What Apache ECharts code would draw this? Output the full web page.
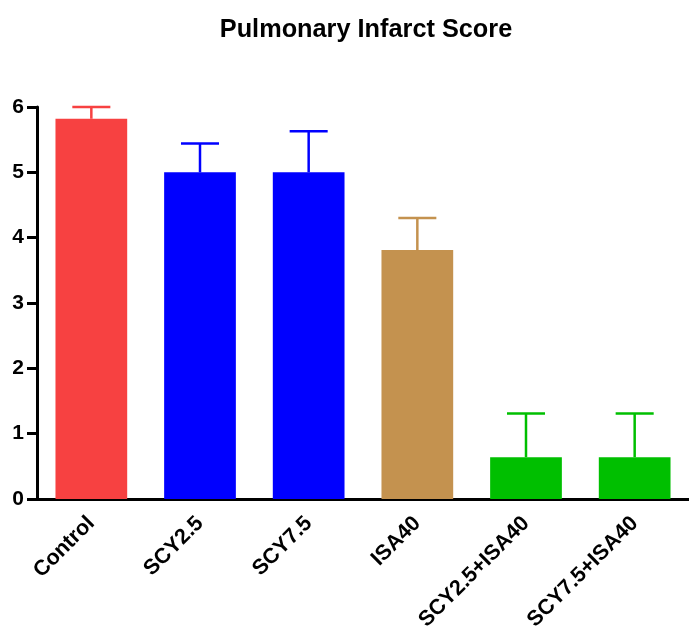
<!DOCTYPE html>
<html>
<head>
<meta charset="utf-8">
<script src="https://cdn.jsdelivr.net/npm/echarts@6/dist/echarts.min.js"></script>
<style>
  html, body { margin: 0; padding: 0; background: #fff; }
  #chart { width: 689px; height: 636px; }
</style>
</head>
<body>
<div id="chart"></div>
<script>
// Group names, mean scores and upper error-bar ends
const categories = ['Control', 'SCY2.5', 'SCY7.5', 'ISA40', 'SCY2.5+ISA40', 'SCY7.5+ISA40'];
const means = [5.82, 5.0, 5.0, 3.81, 0.64, 0.64];
const upperErr = [6.0, 5.44, 5.63, 4.30, 1.31, 1.31];
const barColors = ['#F74141', '#0000FF', '#0000FF', '#C4924F', '#00BF00', '#00BF00'];
const yTicks = [0, 1, 2, 3, 4, 5, 6];

const chart = echarts.init(document.getElementById('chart'), null, { renderer: 'canvas' });

const fontFam = '"Liberation Sans", Arial, sans-serif';

chart.setOption({
  animation: false,
  title: {
    text: 'Pulmonary Infarct Score',
    left: 361,
    top: 13,
    textAlign: 'center',
    textStyle: { fontFamily: fontFam, fontWeight: 'bold', fontSize: 25.3, color: '#000' }
  },
  grid: { left: 37, right: -3, top: 107, bottom: 137, containLabel: false },
  xAxis: {
    type: 'category',
    data: categories,
    axisLine: { lineStyle: { color: '#000', width: 3 } },
    axisTick: { alignWithLabel: true, length: 8, lineStyle: { color: '#000', width: 3 } },
    axisLabel: {
      rotate: 45,
      interval: 0,
      margin: 21,
      fontFamily: fontFam,
      fontWeight: 'bold',
      fontSize: 21.5,
      color: '#000'
    }
  },
  yAxis: {
    type: 'value',
    min: yTicks[0],
    max: yTicks[yTicks.length - 1],
    interval: 1,
    splitLine: { show: false },
    axisLine: { show: true, lineStyle: { color: '#000', width: 3 } },
    axisTick: { show: true, length: 10, lineStyle: { color: '#000', width: 3 } },
    axisLabel: {
      margin: 13,
      fontFamily: fontFam,
      fontWeight: 'bold',
      fontSize: 21,
      color: '#000'
    }
  },
  series: [
    {
      type: 'bar',
      barWidth: '66%',
      data: means.map((v, i) => ({ value: v, itemStyle: { color: barColors[i] } })),
      z: 2
    },
    {
      // error bars: stem from the bar top up to a horizontal cap
      type: 'custom',
      z: 3,
      data: means.map((v, i) => [i, v, upperErr[i]]),
      renderItem: function (params, api) {
        const i = api.value(0);
        const base = api.coord([i, api.value(1)]);
        const top = api.coord([i, api.value(2)]);
        const capHalf = api.size([1, 0])[0] * 0.175;
        const color = barColors[i];
        const style = { stroke: color, lineWidth: 2.5, fill: null };
        return {
          type: 'group',
          children: [
            { type: 'line', shape: { x1: base[0], y1: base[1], x2: top[0], y2: top[1] }, style: style },
            { type: 'line', shape: { x1: top[0] - capHalf, y1: top[1], x2: top[0] + capHalf, y2: top[1] }, style: style }
          ]
        };
      }
    }
  ]
});
</script>
</body>
</html>
